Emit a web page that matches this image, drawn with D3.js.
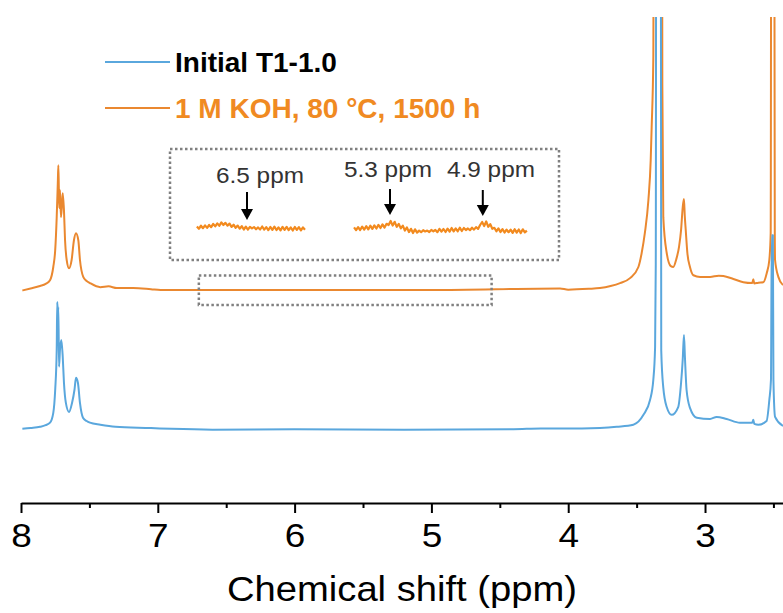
<!DOCTYPE html>
<html>
<head>
<meta charset="utf-8">
<script src="https://cdn.jsdelivr.net/npm/d3@7"></script>
<style>
  html, body { margin: 0; padding: 0; background: #fff; }
  svg { display: block; font-family: "Liberation Sans", Arial, sans-serif; }
</style>
</head>
<body>
<svg id="chart" width="783" height="613"></svg>
<script>
// 1H NMR spectra (DMSO-d6), chemical shift in ppm and relative intensity
const initialPpm = [7.99, 7.93, 7.861, 7.82, 7.788, 7.764, 7.75, 7.739, 7.735, 7.731, 7.727, 7.722, 7.715, 7.705, 7.695, 7.686, 7.672, 7.649, 7.627, 7.609, 7.598, 7.584, 7.569, 7.547, 7.52, 7.496, 7.42, 7.31, 7.05, 6.9, 6.6, 6.0, 5.2, 4.4, 4.2, 3.9, 3.768, 3.645, 3.524, 3.45, 3.402, 3.378, 3.365, 3.36, 3.355, 3.325, 3.32, 3.305, 3.28, 3.244, 3.196, 3.175, 3.163, 3.154, 3.147, 3.135, 3.11, 3.06, 2.963, 2.915, 2.842, 2.745, 2.655, 2.647, 2.64, 2.61, 2.55, 2.53, 2.518, 2.512, 2.504, 2.50, 2.488, 2.43];
const initialInt = [0, 0.2, 0.5, 0.9, 1.5, 3.9, 9.5, 19.2, 30.8, 28, 29.6, 15.1, 19.2, 21.6, 17.5, 11.2, 6.3, 4.1, 6.3, 9.5, 12.4, 11.2, 6.3, 2.7, 1.9, 1.5, 1.0, 0.5, 0.2, 0, -0.2, -0.1, -0.2, -0.1, 0.1, 0.1, 0.2, 0.5, 1.0, 3.4, 7.0, 11.9, 19.9, 40, 200, 200, 19, 10, 5.3, 3.4, 5.3, 11.2, 16.8, 22.8, 17.5, 9.5, 5.1, 2.7, 2.4, 2.9, 2.4, 1.5, 1.5, 2.2, 1.2, 1.0, 1.9, 7.0, 11.9, 47, 47, 11.9, 2.9, 0.7];

const agedPpm = [7.99, 7.93, 7.861, 7.82, 7.788, 7.764, 7.75, 7.739, 7.731, 7.727, 7.723, 7.72, 7.715, 7.708, 7.70, 7.695, 7.686, 7.678, 7.666, 7.649, 7.63, 7.613, 7.598, 7.581, 7.569, 7.545, 7.52, 7.496, 7.42, 7.36, 7.30, 7.18, 7.05, 6.98, 6.5, 5.0, 4.06, 4.0, 3.85, 3.768, 3.69, 3.621, 3.548, 3.487, 3.463, 3.44, 3.414, 3.397, 3.39, 3.378, 3.37, 3.318, 3.312, 3.305, 3.28, 3.25, 3.232, 3.21, 3.19, 3.175, 3.163, 3.154, 3.148, 3.141, 3.129, 3.11, 3.085, 3.036, 2.963, 2.90, 2.866, 2.793, 2.72, 2.655, 2.647, 2.64, 2.61, 2.574, 2.549, 2.53, 2.52, 2.513, 2.498, 2.49, 2.488, 2.464, 2.43];
const agedInt = [-0.1, 0.4, 1.0, 1.5, 2.4, 5.6, 9.7, 17.7, 26, 30.3, 24, 19.9, 24.3, 17.7, 21, 23.5, 19.4, 12.1, 7.3, 5.3, 7.3, 12.1, 13.8, 12.1, 7.3, 3.2, 2.2, 1.7, 0.7, 0.9, 0.5, 0.5, 0.2, 0, 0, 0, 0.4, 0.1, 0.3, 0.5, 1.0, 1.7, 2.9, 5.6, 9.0, 13.8, 21.8, 31.6, 39.6, 56.3, 200, 200, 50, 17.7, 9.0, 5.8, 5.6, 7.5, 10.5, 14.6, 20.1, 22.1, 18, 14.6, 9.0, 5.6, 3.6, 3.2, 3.2, 3.5, 3.4, 2.7, 1.9, 1.7, 2.6, 1.6, 1.8, 1.9, 4.1, 7.3, 13.8, 200, 200, 13, 7.3, 3.2, 1.2];

// Magnified baseline of the aged sample, two windows (ppm ranges)
const zoomWindows = [[6.716, 6.25], [5.455, 4.71]];
const zoomLeftInt = [1.5, -0.8, 2.3, -0.2, 2.6, 0.1, 3.0, 0.8, 4.1, 1.6, 4.6, 2.2, 5.6, 3.0, 5.2, 2.3, 4.4, 1.1, 3.3, 0.2, 2.4, -0.7, 1.8, -1.5, 1.4, -1.6, 1.2, -0.4, 0.9, -1.3, 0.6, -1.5, 1.5, -1.6, 0.8, -2.2, 1.0, -1.8, 1.3, -2.0, 0.7, -2.4, 1.1, -1.9, 1.2, -2.1, 0.6, -2.5, 1.0, -1.9, 0.8, -2.3, 0.6, -1.7];
const zoomRightInt = [0.6, -2.2, 0.9, -2.0, 1.4, -1.6, 1.8, -1.4, 2.3, -0.9, 2.6, -0.5, 3.1, 0.0, 3.6, 0.4, 4.2, 3.0, 7.0, 2.4, 6.2, 1.2, 4.1, -0.4, 2.3, -2.6, 0.6, -4.1, -0.8, -5.0, -1.3, -4.6, -2.6, -4.2, -2.2, -3.5, -2.6, -4.0, -1.9, -3.3, -2.0, -4.2, -0.8, -3.6, -1.0, -4.0, -0.6, -3.7, 0.0, -3.4, -0.4, -3.3, 0.3, -3.0, 0.0, -2.0, -0.5, -2.2, 0.3, -1.6, 0.9, -0.9, 3.0, 6.0, 2.0, 6.6, 1.2, 3.9, -0.8, 0.2, -3.3, -0.4, -4.0, -1.2, -4.5, -1.6, -4.2, -1.6, -4.9, -1.2, -4.6, -1.5, -5.1, -1.3, -4.4, -2.6];
const markedShifts = [6.5, 5.3, 4.9];
const markedLabels = ["6.5 ppm", "5.3 ppm", "4.9 ppm"];

const majorTicks = [8, 7, 6, 5, 4, 3];
const minorTicks = [7.5, 6.5, 5.5, 4.5, 3.5, 2.5];
const seriesNames = ["Initial T1-1.0", "1 M KOH, 80 \u00B0C, 1500 h"];

const BLUE = "#5aa7dd", ORANGE = "#ea8830", ORANGE_TEXT = "#f08a22";

const svg = d3.select("#chart");
const plot = { left: 21, right: 783, top: 17, bottom: 503 };

const x = d3.scaleLinear().domain([8, 2.43]).range([plot.left, plot.right]);
const y = d3.scaleLinear().domain([-18, 100]).range([plot.bottom, plot.top]);
const stackOffset = 33.7; // vertical offset of the aged spectrum

svg.append("defs").append("clipPath").attr("id", "plotClip")
  .append("rect").attr("x", plot.left - 2).attr("y", plot.top)
  .attr("width", plot.right - plot.left + 4).attr("height", plot.bottom - plot.top);

const line = d3.line().x(d => x(d[0])).y(d => y(d[1])).curve(d3.curveMonotoneX);
const g = svg.append("g").attr("clip-path", "url(#plotClip)");

const aged = agedPpm.map((p, i) => [p, agedInt[i] + stackOffset]);
const initial = initialPpm.map((p, i) => [p, initialInt[i]]);

g.append("path").datum(aged).attr("d", line)
  .attr("fill", "none").attr("stroke", ORANGE).attr("stroke-width", 2).attr("stroke-linejoin", "round");
g.append("path").datum(initial).attr("d", line)
  .attr("fill", "none").attr("stroke", BLUE).attr("stroke-width", 2).attr("stroke-linejoin", "round");

// x axis
const axisG = svg.append("g").attr("transform", `translate(0,${plot.bottom})`);
axisG.call(d3.axisBottom(x).tickValues(majorTicks).tickSize(10).tickSizeOuter(0).tickFormat(d3.format("d")));
axisG.select(".domain").attr("stroke", "#000").attr("stroke-width", 2);
axisG.selectAll(".tick line").attr("stroke", "#000").attr("stroke-width", 2);
axisG.selectAll(".tick text")
  .attr("y", 44).attr("dy", null)
  .attr("font-size", 33).attr("fill", "#000")
  .attr("font-family", "'Liberation Sans', Arial, sans-serif")
  .attr("transform", "scale(1.12,1)");

const minorG = svg.append("g").attr("transform", `translate(0,${plot.bottom})`);
minorG.call(d3.axisBottom(x).tickValues(minorTicks).tickSize(5).tickSizeOuter(0).tickFormat(""));
minorG.select(".domain").remove();
minorG.selectAll(".tick line").attr("stroke", "#000").attr("stroke-width", 2);

svg.append("text").attr("x", 402).attr("y", 601).attr("text-anchor", "middle")
  .attr("font-size", 35).attr("fill", "#000")
  .attr("textLength", 350).attr("lengthAdjust", "spacingAndGlyphs")
  .text("Chemical shift (ppm)");

// legend
const legend = svg.append("g");
[[BLUE, "#000", 62], [ORANGE, ORANGE_TEXT, 108]].forEach(([c, tc, ly], i) => {
  legend.append("line").attr("x1", 105).attr("x2", 170).attr("y1", ly).attr("y2", ly)
    .attr("stroke", c).attr("stroke-width", 2);
  legend.append("text").attr("x", 175).attr("y", ly + 9.5)
    .attr("font-size", 28).attr("font-weight", "bold").attr("fill", tc)
    .text(seriesNames[i]);
});

// dotted frames: highlighted region and magnified view
const dotted = sel => sel.attr("fill", "none").attr("stroke", "#808080")
  .attr("stroke-width", 2.5).attr("stroke-dasharray", "2.5,2.5");
svg.append("rect").attr("x", x(6.7)).attr("y", 275.5)
  .attr("width", x(4.56) - x(6.7)).attr("height", 29.5).call(dotted);
svg.append("rect").attr("x", 170).attr("y", 149).attr("width", 389).attr("height", 111).call(dotted);

// magnified traces (broken axis, 232 px per ppm in each window)
const leftX = d3.scaleLinear().domain([6.5, 6.0]).range([247, 363]);
const rightX = d3.scaleLinear().domain([5.3, 4.9]).range([390, 482.8]);
const zy = d3.scaleLinear().domain([-10, 10]).range([238, 218]);
const zoomLine = sx => d3.line().x(d => sx(d[0])).y(d => zy(d[1]));

function sampled(win, vals) {
  const n = vals.length;
  return vals.map((v, i) => [win[0] + (win[1] - win[0]) * i / (n - 1), v]);
}
svg.append("path").datum(sampled(zoomWindows[0], zoomLeftInt)).attr("d", zoomLine(leftX))
  .attr("fill", "none").attr("stroke", "#f28a1e").attr("stroke-width", 2.2).attr("stroke-linejoin", "round");
svg.append("path").datum(sampled(zoomWindows[1], zoomRightInt)).attr("d", zoomLine(rightX))
  .attr("fill", "none").attr("stroke", "#f28a1e").attr("stroke-width", 2.2).attr("stroke-linejoin", "round");

// arrows and labels marking weak signals
const arrowX = [leftX(markedShifts[0]), rightX(markedShifts[1]), rightX(markedShifts[2])];
const arrowTop = [192, 189, 190];
const arrowTip = [220, 215, 216];
const labelX = [260, 388, 491];
const labelY = [183, 177, 177];
markedShifts.forEach((s, i) => {
  const ax = arrowX[i];
  svg.append("line").attr("x1", ax).attr("x2", ax).attr("y1", arrowTop[i]).attr("y2", arrowTip[i] - 8)
    .attr("stroke", "#000").attr("stroke-width", 2);
  svg.append("path")
    .attr("d", `M${ax - 6},${arrowTip[i] - 11} L${ax + 6},${arrowTip[i] - 11} L${ax},${arrowTip[i]} Z`)
    .attr("fill", "#000");
  svg.append("text").attr("x", labelX[i]).attr("y", labelY[i]).attr("text-anchor", "middle")
    .attr("font-size", 22).attr("fill", "#333")
    .attr("textLength", 88).attr("lengthAdjust", "spacingAndGlyphs")
    .text(markedLabels[i]);
});
</script>
</body>
</html>
